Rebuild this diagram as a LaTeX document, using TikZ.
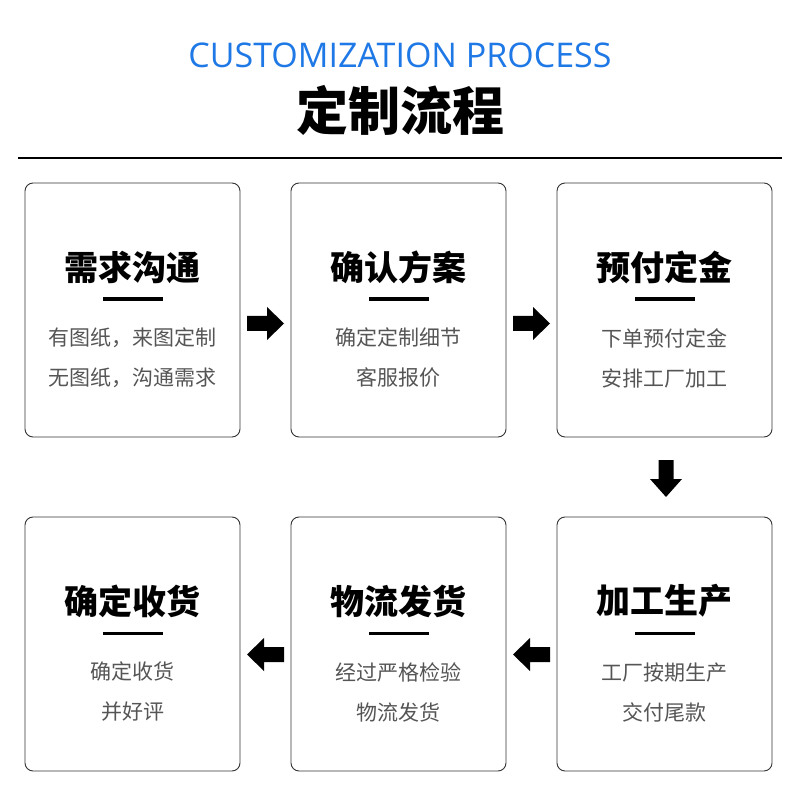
\documentclass[tikz,border=0pt]{standalone}
\usepackage{fontspec}
\setmainfont{Noto Sans CJK SC}
\newfontfamily\cjk{Noto Sans CJK SC}
\newfontfamily\cjkb[BoldFont={Noto Sans CJK SC Black}]{Noto Sans CJK SC}
\newfontfamily\latin{Open Sans}
\definecolor{ttl}{HTML}{1E78E6}
\definecolor{gtx}{HTML}{555555}
\begin{document}
\begin{tikzpicture}[x=1pt,y=-1pt,
 box/.style={draw=black!80,line width=0.9pt,rounded corners=8pt},
 head/.style={font=\cjk\bfseries\fontsize{34}{34}\selectfont},
 body/.style={font=\cjk\fontsize{21}{40}\selectfont,text=gtx,align=center},
 barr/.style={fill=black}]
\useasboundingbox (0,0) rectangle (800,799);
\node (t1) at (400,55) {\latin\fontsize{34}{34}\selectfont\color{ttl}CUSTOMIZATION PROCESS};
\node (t2) at (400,110) {\cjk\bfseries\fontsize{52}{52}\selectfont 定制流程};
\draw[line width=1.5pt] (18,158) -- (782,158);
\foreach \x/\y/\h/\a/\b [count=\i] in {
 25/183/需求沟通/有图纸，来图定制/无图纸，沟通需求,
 291/183/确认方案/确定定制细节/客服报价,
 557/183/预付定金/下单预付定金/安排工厂加工,
 557/517/加工生产/工厂按期生产/交付尾款,
 291/517/物流发货/经过严格检验/物流发货,
 25/517/确定收货/确定收货/并好评}{
 \draw[box] (\x,\y) rectangle ++(215,254);
 \node[head] (h\i) at (\x+107.5,\y+84) {\h};
 \fill (\x+77.5,\y+114.5) rectangle ++(60,3.5);
 \node[body] (b\i) at (\x+107.5,\y+175) {\a\\\b};
}
% right arrows
\foreach \x in {247,513}{
 \fill (\x,316) -- (\x+20,316) -- (\x+20,307) -- (\x+37,323.5) -- (\x+20,340) -- (\x+20,331) -- (\x,331) -- cycle;}
% down arrow
\fill (658.5,460) -- (673.5,460) -- (673.5,479) -- (682,479) -- (666,497) -- (650,479) -- (658.5,479) -- cycle;
% left arrows
\foreach \x in {284,550}{
 \fill (\x,647) -- (\x-20,647) -- (\x-20,638) -- (\x-37,654.5) -- (\x-20,671) -- (\x-20,662) -- (\x,662) -- cycle;}
\end{tikzpicture}
\end{document}
